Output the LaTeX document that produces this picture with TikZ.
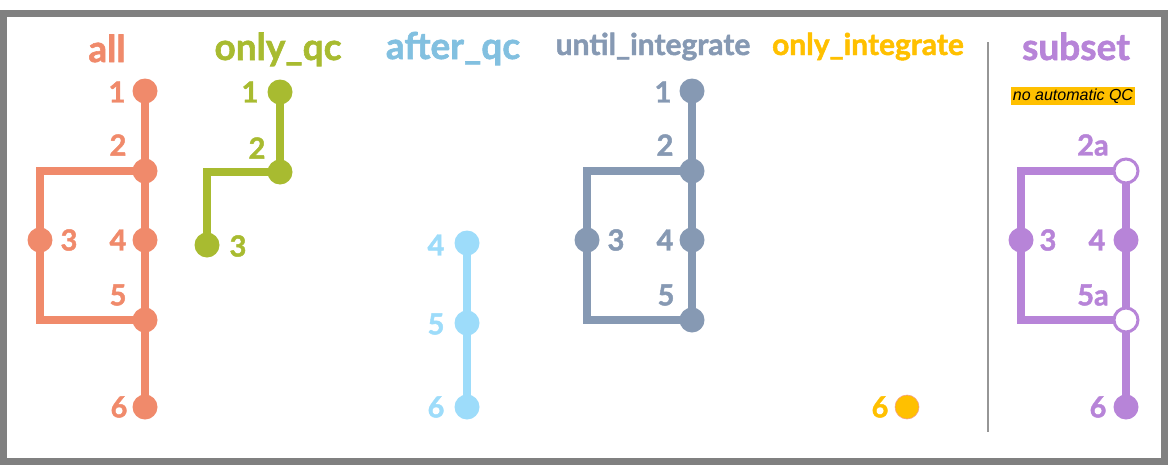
\documentclass[tikz,border=0pt]{standalone}
\usepackage{fontspec}
\setmainfont{Lato}[BoldFeatures={FakeBold=1.6}]
\setsansfont{Liberation Sans}
\usetikzlibrary{backgrounds}

\definecolor{allc}{RGB}{240,138,107}
\definecolor{qcc}{RGB}{168,187,48}
\definecolor{afterc}{RGB}{157,220,250}
\definecolor{aftertitle}{RGB}{130,192,224}
\definecolor{untilc}{RGB}{134,153,179}
\definecolor{integc}{RGB}{255,192,0}
\definecolor{subsetc}{RGB}{183,132,216}
\definecolor{framegray}{RGB}{128,128,128}
\definecolor{sepgray}{RGB}{150,150,150}

\begin{document}
\begin{tikzpicture}[x=1pt, y=-1pt,
  dot/.style={circle, fill=#1, inner sep=0pt, minimum size=25pt},
  opendot/.style={circle, draw=#1, fill=white, line width=3pt, inner sep=0pt, minimum size=24pt},
  wire/.style={draw=#1, line width=8pt},
  num/.style={text=#1, font=\bfseries\fontsize{29}{29}\selectfont, inner sep=0pt},
  title/.style={text=#1, font=\bfseries\fontsize{37}{37}\selectfont, inner sep=0pt, anchor=base},
  smalltitle/.style={title=#1, font=\bfseries\fontsize{30}{30}\selectfont}]
  \useasboundingbox (0,0) rectangle (1168,466);
  \draw[framegray, line width=7pt] (3.5,13.5) rectangle (1164.5,461);

  % titles
  \node[title=allc]       (tAll)   at (107,62)   {all};
  \node[title=qcc]        (tQc)    at (278,60)   {only\_qc};
  \node[title=aftertitle] (tAfter) at (453,59)   {after\_qc};
  \node[smalltitle=untilc] (tUntil) at (653,55)  {until\_integrate};
  \node[smalltitle=integc] (tInteg) at (868,55)  {only\_integrate};
  \node[title=subsetc]    (tSub)   at (1076,60)  {subset};
  \node[fill=integc, inner sep=1.5pt, font=\sffamily\itshape\fontsize{16}{16}\selectfont] (noqc) at (1073,96) {no automatic QC};

  % separator
  \coordinate (sepTop) at (988,42);
  \coordinate (sepBot) at (988,432);
  \draw[sepgray, line width=2pt] (sepTop) -- (sepBot);

  % all
  \node[dot=allc] (a1) at (145,91)  {};
  \node[dot=allc] (a2) at (145,171) {};
  \node[dot=allc] (a3) at (40,240)  {};
  \node[dot=allc] (a4) at (145,240) {};
  \node[dot=allc] (a5) at (145,320) {};
  \node[dot=allc] (a6) at (145,407) {};
  \node[num=allc] at (117,92)  {1};
  \node[num=allc] at (118,145) {2};
  \node[num=allc] at (69,240)  {3};
  \node[num=allc] at (118,240) {4};
  \node[num=allc] at (118,295) {5};
  \node[num=allc] at (119,407) {6};

  % only_qc
  \node[dot=qcc] (q1) at (280,92)  {};
  \node[dot=qcc] (q2) at (280,172) {};
  \node[dot=qcc] (q3) at (207,245) {};
  \node[num=qcc] at (250,92)  {1};
  \node[num=qcc] at (257,148) {2};
  \node[num=qcc] at (238,246) {3};

  % after_qc
  \node[dot=afterc] (f4) at (467,243) {};
  \node[dot=afterc] (f5) at (467,323) {};
  \node[dot=afterc] (f6) at (467,407) {};
  \node[num=afterc] at (436,245) {4};
  \node[num=afterc] at (436,324) {5};
  \node[num=afterc] at (436,407) {6};

  % until_integrate
  \node[dot=untilc] (u1) at (692,91)  {};
  \node[dot=untilc] (u2) at (692,171) {};
  \node[dot=untilc] (u3) at (587,240) {};
  \node[dot=untilc] (u4) at (692,240) {};
  \node[dot=untilc] (u5) at (692,320) {};
  \node[num=untilc] at (663,92)  {1};
  \node[num=untilc] at (665,145) {2};
  \node[num=untilc] at (616,240) {3};
  \node[num=untilc] at (665,240) {4};
  \node[num=untilc] at (666,295) {5};

  % only_integrate
  \node[dot=integc, draw=allc!80, line width=0.6pt, minimum size=24pt] (i6) at (907,407) {};
  \node[num=integc] at (880,407) {6};

  % subset
  \node[opendot=subsetc] (s2) at (1126,171) {};
  \node[dot=subsetc]     (s3) at (1021,240) {};
  \node[dot=subsetc]     (s4) at (1126,240) {};
  \node[opendot=subsetc] (s5) at (1126,320) {};
  \node[dot=subsetc]     (s6) at (1126,407) {};
  \node[num=subsetc] at (1093,145) {2a};
  \node[num=subsetc] at (1048,240) {3};
  \node[num=subsetc] at (1097,240) {4};
  \node[num=subsetc] at (1093,295) {5a};
  \node[num=subsetc] at (1098,407) {6};

  \begin{pgfonlayer}{background}
    \draw[wire=allc] (a1.center) -- (a6.center);
    \draw[wire=allc] (a2.center) -| (a3.center) |- (a5.center);
    \draw[wire=qcc] (q1.center) -- (q2.center) -| (q3.center);
    \draw[wire=afterc] (f4.center) -- (f6.center);
    \draw[wire=untilc] (u1.center) -- (u5.center);
    \draw[wire=untilc] (u2.center) -| (u3.center) |- (u5.center);
    \draw[wire=subsetc] (s2.center) -- (s6.center);
    \draw[wire=subsetc] (s2.center) -| (s3.center) |- (s5.center);
  \end{pgfonlayer}
\end{tikzpicture}
\end{document}
